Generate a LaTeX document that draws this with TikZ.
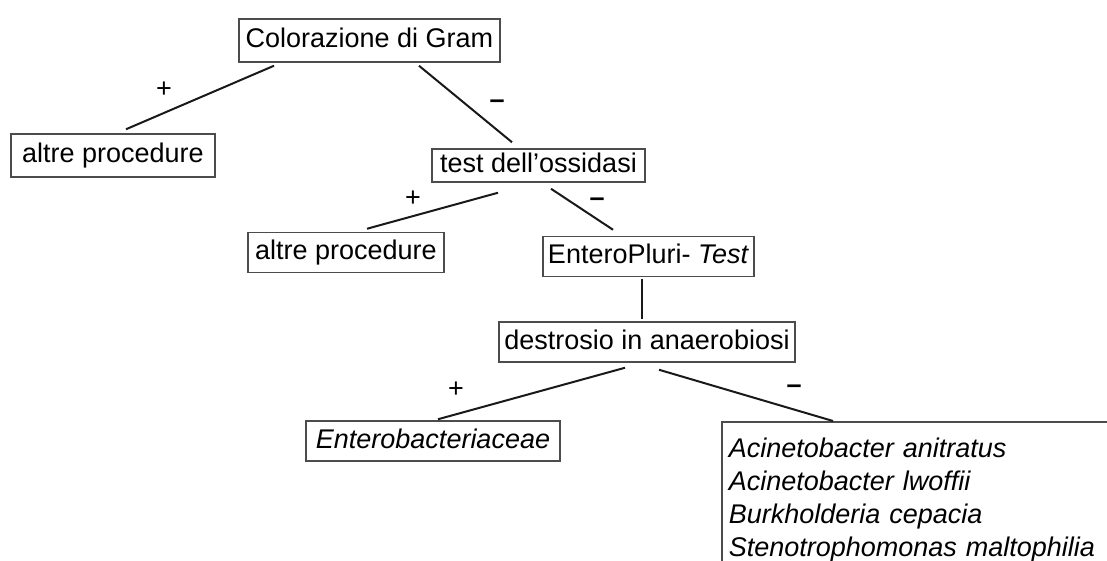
\documentclass[tikz,border=0pt]{standalone}
\usepackage{fontspec}
\setmainfont{Liberation Sans}
\usepackage{tikz}
\usetikzlibrary{positioning,calc}
\definecolor{BoxGray}{rgb}{0.3,0.3,0.3}
\definecolor{LineDark}{rgb}{0.1,0.1,0.1}
\newcommand{\keyfont}{\fontsize{13.5}{16.5}\selectfont}

\begin{document}
\begin{tikzpicture}[x=0.5pt, y=-0.5pt,
  every node/.style={font=\keyfont},
  box/.style={rectangle, draw=BoxGray, line width=0.75pt, text height=10pt, text depth=3pt, inner ysep=3.5pt, inner xsep=0pt},
  sign/.style={inner sep=0pt},
  edge/.style={-, draw=LineDark, line width=1pt}]
  \clip (0,0) rectangle (1107,561);
  \node[box, minimum width=130.5pt, minimum height=21.5pt] (n0) at (369.5, 40.5) {Colorazione di Gram};
  \node[box, minimum width=102pt, minimum height=21.5pt] (n1) at (113, 155.5) {altre procedure};
  \draw[edge] ($(n0.south)+(-95.5,3)$) -- ($(n1.north)+(13,-4)$);
  \node[sign] (l0) at (164, 90) {+};
  \node[box, minimum width=106.5pt, inner ysep=1.75pt] (n2) at (538.5, 165.5) {test dell'ossidasi};
  \draw[edge] ($(n0.south)+(49.5,3)$) -- ($(n2.north)+(-26.5,-6)$);
  \node[sign] (l1) at (497, 104) {\textbf{\textendash}};
  \node[box, minimum width=98pt] (n3) at (346, 252.5) {altre procedure};
  \draw[edge] ($(n2.south)+(-40.5,10)$) -- ($(n3.north)+(21,-3)$);
  \node[sign] (l2) at (413, 199) {+};
  \node[box, minimum width=105.5pt] (n4) at (648.5, 256.5) {EnteroPluri- \textit{Test}};
  \draw[edge] ($(n2.south)+(12.5,6)$) -- ($(n4.north)+(-35.5,-6)$);
  \node[sign] (l3) at (597, 202) {\textbf{\textendash}};
  \node[box, minimum width=148pt] (n5) at (647, 342) {destrosio in anaerobiosi};
  \draw[edge] ($(n4.south)+(-6.5,2)$) -- ($(n5.north)+(-5,-2)$);
  \node[box, minimum width=127pt, font=\keyfont\itshape] (n6) at (433, 441) {Enterobacteriaceae};
  \draw[edge] ($(n5.south)+(-22,5)$) -- ($(n6.north)+(5,-1)$);
  \node[sign] (l4) at (456, 390) {+};
  \node[rectangle, draw=BoxGray, line width=0.75pt, anchor=north west, align=left, font=\keyfont\itshape,
        text width=210pt, inner xsep=3.5pt, inner ysep=8pt] (n7) at (721, 421)
        {Acinetobacter anitratus\\Acinetobacter lwoffii\\Burkholderia cepacia\\Stenotrophomonas maltophilia};
  \draw[edge] ($(n5.south)+(12,7)$) -- ($(n7.north west)+(112,0)$);
  \node[sign] (l5) at (794, 389) {\textbf{\textendash}};
\end{tikzpicture}
\end{document}
